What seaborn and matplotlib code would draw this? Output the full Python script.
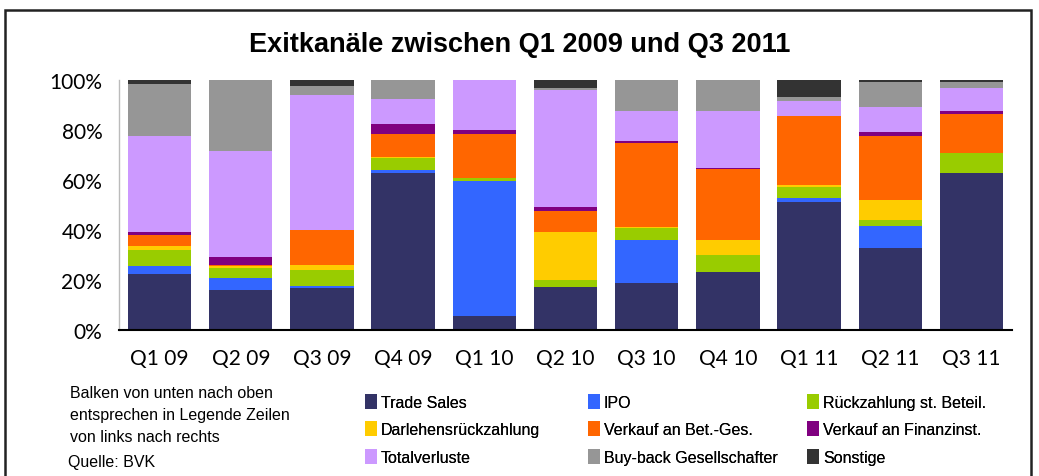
import matplotlib
import matplotlib.pyplot as plt
import numpy as np
import pandas as pd
import seaborn as sns
from matplotlib.patches import Patch, Rectangle

matplotlib.rcParams['figure.dpi'] = 100

quarters = ['Q1 09', 'Q2 09', 'Q3 09', 'Q4 09', 'Q1 10', 'Q2 10',
            'Q3 10', 'Q4 10', 'Q1 11', 'Q2 11', 'Q3 11']

series_names = ['Trade Sales', 'IPO', 'Rückzahlung st. Beteil.',
                'Darlehensrückzahlung', 'Verkauf an Bet.-Ges.', 'Verkauf an Finanzinst.',
                'Totalverluste', 'Buy-back Gesellschafter', 'Sonstige']

trade_sales = [22.5, 16.1, 16.9, 62.7, 5.6, 17.3, 18.9, 23.3, 51.4, 32.9, 62.7]
ipo = [3.2, 4.8, 0.8, 1.2, 54.2, 0.0, 17.2, 0.0, 1.6, 8.9, 0.0]
rueckzahlung = [6.4, 4.0, 6.4, 4.9, 1.2, 2.8, 4.6, 6.8, 4.4, 2.4, 8.0]
darlehen = [1.6, 0.8, 2.0, 0.4, 0.0, 19.3, 0.4, 6.0, 0.8, 8.0, 0.0]
verkauf_bet = [4.5, 0.4, 14.1, 9.1, 17.3, 8.4, 33.6, 28.2, 27.3, 25.3, 15.7]
verkauf_fin = [1.2, 3.2, 0.0, 4.0, 1.6, 1.6, 0.8, 0.4, 0.0, 1.6, 1.2]
totalverluste = [38.1, 42.2, 53.8, 10.1, 20.1, 46.6, 12.1, 22.9, 6.1, 10.1, 9.2]
buyback = [20.9, 28.5, 3.6, 7.6, 0.0, 0.8, 12.4, 12.4, 1.6, 10.0, 2.4]
sonstige = [1.6, 0.0, 2.4, 0.0, 0.0, 3.2, 0.0, 0.0, 6.8, 0.8, 0.8]

colors = ['#333366', '#3366FF', '#99CC00', '#FFCC00', '#FF6600',
          '#800080', '#CC99FF', '#969696', '#333333']

narrow = ['Liberation Sans', 'DejaVu Sans']


def _build_frame():
    values = [trade_sales, ipo, rueckzahlung, darlehen, verkauf_bet,
              verkauf_fin, totalverluste, buyback, sonstige]
    df = pd.DataFrame(np.array(values).T, columns=series_names)
    df.insert(0, 'Quartal', quarters)
    return df


def main():
    sns.set_style('white')
    plt.rcParams['text.color'] = 'black'
    df = _build_frame()
    cum = df[series_names].cumsum(axis=1) / 100.0
    cum['Quartal'] = df['Quartal']

    fig = plt.figure(figsize=(10.39, 4.77))
    ax = fig.add_axes([119 / 1039, 1 - 331 / 477, 893 / 1039, 250 / 477])

    # stacked bars: draw the tallest cumulative first, then overlay lower ones
    for name, color in reversed(list(zip(series_names, colors))):
        sns.barplot(data=cum, x='Quartal', y=name, color=color, width=0.78,
                    saturation=1, ax=ax, linewidth=0, order=quarters)

    ax.set_xlim(-0.5, len(quarters) - 0.5)
    ax.set_ylim(0, 1)
    ax.set_xlabel('')
    ax.set_ylabel('')
    ax.set_yticks(np.arange(0, 1.01, 0.2))
    ax.set_yticklabels([f'{int(v)}%' for v in np.arange(0, 101, 20)])
    ax.set_xticks(range(len(quarters)))
    ax.set_xticks(np.arange(-0.5, len(quarters)), minor=True)
    ax.tick_params(axis='x', which='major', length=0, pad=13, labelsize=15, colors='black')
    ax.tick_params(axis='x', which='minor', length=6, width=1.5, direction='out', color='black')
    ax.tick_params(axis='y', length=0, pad=12, labelsize=15, colors='black')
    for lbl in ax.get_xticklabels() + ax.get_yticklabels():
        lbl.set_family(['Lato', 'DejaVu Sans'])

    for side in ['top', 'right']:
        ax.spines[side].set_visible(False)
    ax.spines['bottom'].set_color('black')
    ax.spines['bottom'].set_linewidth(1.5)
    ax.spines['left'].set_color('#BBBBBB')
    ax.spines['left'].set_linewidth(1)

    fig.text(0.5, 1 - 45 / 477, 'Exitkanäle zwischen Q1 2009 und Q3 2011',
             ha='center', va='center', fontsize=19.5, fontweight='bold',
             family=narrow, color='black')

    # outer frame
    fig.patches.append(Rectangle((5 / 1039, -0.1), 1026 / 1039, 1.1 - 11 / 477,
                                 transform=fig.transFigure, fill=False,
                                 edgecolor='#222222', linewidth=1.8))

    notes = ['Balken von unten nach oben', 'entsprechen in Legende Zeilen',
             'von links nach rechts']
    for i, line in enumerate(notes):
        fig.text(70 / 1039, 1 - (393 + 22.5 * i) / 477, line, ha='left', va='center',
                 fontsize=11.5, family=narrow, color='black')
    fig.text(68 / 1039, 1 - 463 / 477, 'Quelle: BVK', ha='left', va='center',
             fontsize=11.5, family=narrow, color='black')

    col_x = [365, 588, 807]
    for col, x in enumerate(col_x):
        idx = [col, col + 3, col + 6]
        handles = [Patch(facecolor=colors[i], edgecolor='none') for i in idx]
        leg = fig.legend(handles, [series_names[i] for i in idx],
                         loc='upper left', bbox_to_anchor=(x / 1039, 1 - 395 / 477),
                         frameon=False, handlelength=0.75, handleheight=1.05,
                         handletextpad=0.25, labelspacing=0.72, borderpad=0,
                         borderaxespad=0, prop={'family': narrow, 'size': 11.5})
        fig.add_artist(leg)

    fig.savefig('out.png', dpi=100)


if __name__ == '__main__':
    main()
